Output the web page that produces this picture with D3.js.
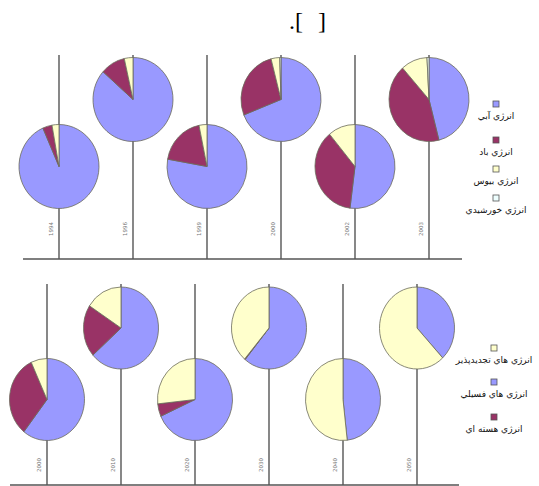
<!DOCTYPE html>
<html><head><meta charset="utf-8">
<script src="https://cdn.jsdelivr.net/npm/d3@7"></script>
<style>html,body{margin:0;padding:0;background:#fff;}svg{display:block;}</style>
</head><body>
<svg id="c" width="539" height="486"></svg>
<script>
// ---- data ----
const topYears = ["1994","1996","1999","2000","2002","2003"];
const topNames = ["انرژي آبي","انرژي باد","انرژي بيوس","انرژي خورشيدي"];
const hydro = [93.4, 86.5, 77.8, 69, 52, 46];
const wind  = [3.8, 10, 19, 27, 37, 42.5];
const bio   = [2.8, 3.5, 3.2, 3.5, 11, 10.7];
const solar = [0, 0, 0, 0.5, 0, 0.8];

const bottomYears = ["2000","2010","2020","2030","2040","2050"];
const bottomNames = ["انرژي هاي فسيلي","انرژي هسته اي","انرژي هاي تجديدپذير"];
const bottomLegendOrder = [2, 0, 1];
const fossil    = [60.6, 63.5, 68.3, 61, 48.2, 38];
const nuclear   = [32.5, 20.6, 5, 0.3, 0, 0];
const renewable = [6.9, 15.9, 26.7, 38.7, 51.8, 62];

const topColors = ["#9999FF","#993366","#FFFFCC","#EEFFFF"];
const bottomColors = ["#9999FF","#993366","#FFFFCC"];

const svg = d3.select("#c");

// title
svg.append("text").attr("x",289).attr("y",29)
  .attr("font-family","Liberation Serif").attr("font-size",24).attr("fill","#000").text(".[");
svg.append("text").attr("x",318).attr("y",29)
  .attr("font-family","Liberation Serif").attr("font-size",24).attr("fill","#000").text("]");

function panel(opt){
  const x = d3.scalePoint().domain(opt.years).range(opt.xRange);
  const g = svg.append("g");
  // vertical stems
  g.selectAll("line.stem").data(opt.years).join("line")
    .attr("x1",d=>x(d)).attr("x2",d=>x(d))
    .attr("y1",opt.lineTop).attr("y2",opt.base)
    .attr("stroke","#555").attr("stroke-width",1.4);
  // baseline
  g.append("line").attr("x1",opt.baseX[0]).attr("x2",opt.baseX[1])
    .attr("y1",opt.base).attr("y2",opt.base).attr("stroke","#555").attr("stroke-width",1.4);
  // year labels
  g.selectAll("text.yr").data(opt.years).join("text")
    .attr("transform",d=>`translate(${x(d)-8},${opt.labelY}) rotate(-90)`)
    .attr("text-anchor","middle").attr("dominant-baseline","middle")
    .attr("font-family","DejaVu Sans").attr("font-size",5.5).attr("fill","#777")
    .text(d=>d);
  // pies
  const pie = d3.pie().sort(null).value(d=>d.v);
  const arc = d3.arc().innerRadius(0).outerRadius(opt.ry);
  opt.years.forEach((yr,i)=>{
    const vals = opt.series.map((s,k)=>({v:s[i],k}));
    const cy = i%2===0 ? opt.lowY : opt.highY;
    const pg = g.append("g").attr("transform",`translate(${x(yr)},${cy}) scale(${opt.rx/opt.ry},1)`);
    pg.selectAll("path").data(pie(vals).filter(d=>d.data.v>0)).join("path")
      .attr("d",arc).attr("fill",d=>opt.colors[d.data.k])
      .attr("stroke","#6b6b5a").attr("stroke-width",0.8).attr("vector-effect","non-scaling-stroke");
  });
  // legend
  const lg = svg.append("g");
  opt.legendOrder.forEach((k,j)=>{
    const my = opt.legendY[j];
    lg.append("rect").attr("x",opt.legendX-3).attr("y",my-3).attr("width",6).attr("height",6)
      .attr("fill",opt.colors[k]).attr("stroke","#555").attr("stroke-width",0.8);
    lg.append("text").attr("x",opt.legendX).attr("y",my+15)
      .attr("text-anchor","middle").attr("font-family","DejaVu Sans").attr("font-size",9)
      .attr("fill","#111").attr("direction","rtl").text(opt.names[k]);
  });
}

panel({
  years: topYears, series:[hydro,wind,bio,solar], colors: topColors, names: topNames,
  legendOrder:[0,1,2,3], legendX:496, legendY:[104,140,169,198],
  xRange:[59,429], lineTop:55, base:259, baseX:[23,462], labelY:229,
  lowY:166.5, highY:99.5, rx:40, ry:42
});
panel({
  years: bottomYears, series:[fossil,nuclear,renewable], colors: bottomColors, names: bottomNames,
  legendOrder: bottomLegendOrder, legendX:494, legendY:[348,382,417],
  xRange:[47,417], lineTop:284, base:485, baseX:[10,459], labelY:465,
  lowY:399.5, highY:328, rx:37.5, ry:41
});
</script>
</body></html>
